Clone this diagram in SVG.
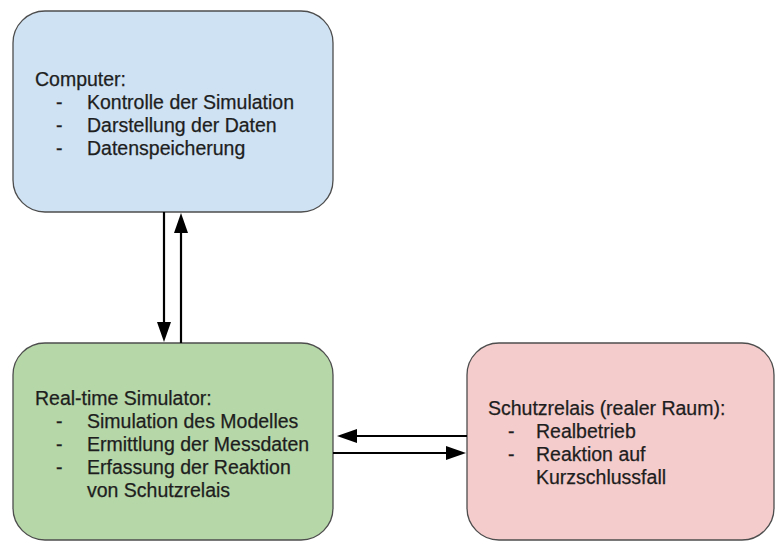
<svg xmlns="http://www.w3.org/2000/svg" width="775" height="542" viewBox="0 0 775 542">
  <style>
    .box { stroke: #4d4d4d; stroke-width: 1.3; }
    .label { font-family: "Liberation Sans", Arial, sans-serif; font-size: 19.5px; fill: #1e1e1e; stroke: #1e1e1e; stroke-width: 0.25; }
    .link { stroke: #000000; stroke-width: 2.2; fill: none; }
    .head { fill: #000000; }
  </style>
  <rect width="775" height="542" fill="#ffffff"/>

  <g id="computer">
    <rect class="box" x="13" y="11" width="320" height="201" rx="32" ry="32" fill="#cfe2f3"/>
    <text class="label" x="35" y="86">Computer:</text>
    <text class="label" x="56" y="109">-</text>
    <text class="label" x="87" y="109">Kontrolle der Simulation</text>
    <text class="label" x="56" y="132">-</text>
    <text class="label" x="87" y="132">Darstellung der Daten</text>
    <text class="label" x="56" y="155">-</text>
    <text class="label" x="87" y="155">Datenspeicherung</text>
  </g>

  <g id="simulator">
    <rect class="box" x="13" y="343" width="320" height="197" rx="32" ry="32" fill="#b6d7a8"/>
    <text class="label" x="35" y="405">Real-time Simulator:</text>
    <text class="label" x="56" y="428">-</text>
    <text class="label" x="87" y="428">Simulation des Modelles</text>
    <text class="label" x="56" y="451">-</text>
    <text class="label" x="87" y="451">Ermittlung der Messdaten</text>
    <text class="label" x="56" y="474">-</text>
    <text class="label" x="87" y="474">Erfassung der Reaktion</text>
    <text class="label" x="87" y="497">von Schutzrelais</text>
  </g>

  <g id="schutzrelais">
    <rect class="box" x="467" y="343" width="307" height="197" rx="32" ry="32" fill="#f4cccc"/>
    <text class="label" x="488" y="415">Schutzrelais (realer Raum):</text>
    <text class="label" x="508" y="438">-</text>
    <text class="label" x="536" y="438">Realbetrieb</text>
    <text class="label" x="508" y="461">-</text>
    <text class="label" x="536" y="461">Reaktion auf</text>
    <text class="label" x="536" y="484">Kurzschlussfall</text>
  </g>

  <g id="connectors">
    <!-- computer to simulator -->
    <line class="link" x1="164" y1="212" x2="164" y2="325"/>
    <polygon class="head" points="157,322 171,322 164,342"/>
    <!-- simulator to computer -->
    <line class="link" x1="181" y1="343" x2="181" y2="230"/>
    <polygon class="head" points="174,233 188,233 181,213"/>
    <!-- relay to simulator -->
    <line class="link" x1="467" y1="436" x2="354" y2="436"/>
    <polygon class="head" points="357,429 357,443 337,436"/>
    <!-- simulator to relay -->
    <line class="link" x1="333" y1="453" x2="448" y2="453"/>
    <polygon class="head" points="446,446 446,460 466,453"/>
  </g>
</svg>
